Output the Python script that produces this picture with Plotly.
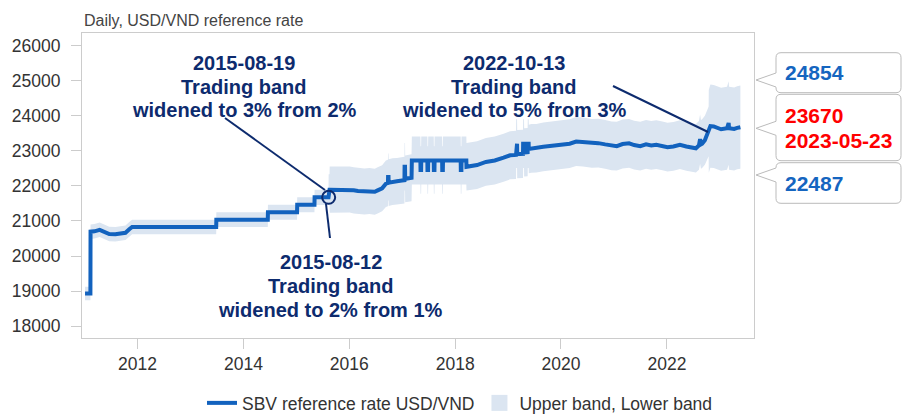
import plotly.graph_objects as go

# ---------------- data ----------------
dates = [
    "2011-01-04", "2011-02-10", "2011-02-11", "2011-03-10", "2011-04-15", "2011-05-15",
    "2011-06-20", "2011-08-01", "2011-09-15", "2011-10-10", "2011-11-05", "2011-11-25",
    "2013-06-27", "2013-06-28", "2014-06-18", "2014-06-19", "2015-01-06", "2015-01-07",
    "2015-05-06", "2015-05-07", "2015-08-11", "2015-08-12", "2015-08-18", "2015-08-19",
    "2015-12-31", "2016-01-04", "2016-02-01", "2016-03-01", "2016-04-15", "2016-05-20",
    "2016-06-25", "2016-07-15", "2016-08-15", "2016-09-10", "2016-09-24", "2016-09-25",
    "2016-09-28", "2016-09-29", "2016-10-25", "2016-11-25", "2016-12-30", "2017-01-16",
    "2017-01-17", "2017-01-20", "2017-01-21", "2017-02-20", "2017-03-06", "2017-03-08",
    "2017-05-06", "2017-05-07", "2017-05-11", "2017-05-12", "2017-06-23", "2017-06-24",
    "2017-06-28", "2017-06-29", "2017-08-06", "2017-08-07", "2017-08-11", "2017-08-12",
    "2017-10-03", "2017-10-04", "2017-10-08", "2017-10-09", "2018-02-08", "2018-02-09",
    "2018-02-13", "2018-02-14", "2018-03-19", "2018-03-20", "2018-04-15", "2018-06-01",
    "2018-08-01", "2018-10-01", "2018-12-01", "2019-01-15", "2019-02-25", "2019-02-26",
    "2019-03-04", "2019-03-05", "2019-04-14", "2019-04-15", "2019-04-21", "2019-04-22",
    "2019-05-16", "2019-05-17", "2019-05-23", "2019-05-24", "2019-06-10", "2019-07-15",
    "2019-09-01", "2019-11-01", "2020-01-01", "2020-03-01", "2020-04-15", "2020-06-01",
    "2020-08-01", "2020-09-15", "2020-11-01", "2020-12-15", "2021-01-20", "2021-03-01",
    "2021-04-15", "2021-05-20", "2021-07-01", "2021-08-10", "2021-09-15", "2021-10-20",
    "2021-12-01", "2022-01-05", "2022-02-15", "2022-04-01", "2022-05-15", "2022-06-20",
    "2022-07-20", "2022-08-10", "2022-08-18", "2022-08-24", "2022-09-01", "2022-09-20",
    "2022-10-10", "2022-10-16", "2022-10-17", "2022-10-28", "2022-11-20", "2022-12-15",
    "2023-01-10", "2023-02-20", "2023-02-27", "2023-03-03", "2023-03-06", "2023-04-10",
    "2023-05-01", "2023-05-23",
]
rates = [
    18932, 18932, 20693, 20703, 20745, 20700,
    20625, 20620, 20635, 20660, 20760, 20828,
    20828, 21036, 21036, 21246, 21246, 21458,
    21458, 21673, 21673, 21890, 21890, 21890,
    21890, 21896, 21870, 21850, 21840, 21850,
    21830, 21870, 21930, 22060, 22080, 22250,
    22250, 22090, 22120, 22130, 22150, 22160,
    22540, 22540, 22200, 22220, 22230, 22720,
    22720, 22450, 22450, 22720, 22720, 22450,
    22450, 22720, 22720, 22450, 22450, 22720,
    22720, 22450, 22450, 22720, 22720, 22450,
    22450, 22720, 22720, 22540, 22560, 22590,
    22680, 22720, 22800, 22870, 22880, 23200,
    23200, 22900, 22910, 23200, 23200, 22950,
    22960, 23200, 23200, 23050, 23065, 23070,
    23110, 23140, 23180, 23200, 23260, 23250,
    23210, 23215, 23180, 23140, 23130, 23190,
    23210, 23160, 23130, 23180, 23150, 23170,
    23140, 23100, 23120, 23170, 23120, 23080,
    23070, 23150, 23330, 23180, 23200, 23300,
    23490, 23550, 23550, 23700, 23690, 23650,
    23610, 23640, 23790, 23790, 23640, 23620,
    23650, 23670,
]

# trading band width (percent) in force from each date
band_start_dates = ["2011-01-01", "2015-08-12", "2015-08-19", "2022-10-17"]
band_percent = [1, 2, 3, 5]

marked_date = "2015-08-12"
last_date_label = dates[-1]

y_tick_values = [18000, 19000, 20000, 21000, 22000, 23000, 24000, 25000, 26000]

# ---------------- derived band ----------------
def pct_for(d):
    p = band_percent[0]
    for sd, bp in zip(band_start_dates, band_percent):
        if d >= sd:
            p = bp
    return p

upper = [(r * (100 + pct_for(d)) + 50) // 100 for d, r in zip(dates, rates)]
lower = [(r * (100 - pct_for(d)) + 50) // 100 for d, r in zip(dates, rates)]

# ---------------- style ----------------
FONT = "Liberation Sans, Arial, sans-serif"
LINE_C = "#1262be"
BAND_C = "#dbe5f1"
NAVY = "#0d2b6e"
BLUE_T = "#1565c0"
RED_T = "#ff0000"

W_FIG, H_FIG = 914, 414
ML, MR, MT, MB = 82, 160, 33, 76
PW = W_FIG - ML - MR
PH = H_FIG - MT - MB


def pxx(x):
    return (x - ML) / PW


def pxy(y):
    return (H_FIG - MB - y) / PH


fig = go.Figure()

fig.add_trace(go.Scatter(x=dates, y=lower, mode="lines", line=dict(width=0, color=BAND_C),
                         showlegend=False, hoverinfo="skip"))
fig.add_trace(go.Scatter(x=dates, y=upper, mode="lines", line=dict(width=0, color=BAND_C),
                         fill="tonexty", fillcolor=BAND_C, showlegend=False, hoverinfo="skip"))
fig.add_trace(go.Scatter(x=dates, y=rates, mode="lines", line=dict(width=4, color=LINE_C),
                         name="SBV reference rate USD/VND", legendrank=1))
# legend proxy for the band
fig.add_trace(go.Scatter(x=[None], y=[None], mode="markers",
                         marker=dict(symbol="square", size=16, color=BAND_C),
                         name="Upper band, Lower band", legendrank=2))
# circle marker
mi = dates.index(marked_date) - 1
fig.add_trace(go.Scatter(x=[marked_date], y=[rates[mi]], mode="markers",
                         marker=dict(symbol="circle-open", size=13, line=dict(width=2, color=NAVY), color=NAVY),
                         showlegend=False, hoverinfo="skip"))

annotations = []
shapes = []


def add_lines(xc, ys, lines, size, color, anchor="center"):
    for y, t in zip(ys, lines):
        annotations.append(dict(xref="paper", yref="paper", x=pxx(xc), y=pxy(y), text="<b>%s</b>" % t,
                                showarrow=False, xanchor=anchor, yanchor="middle",
                                font=dict(family=FONT, size=size, color=color)))


add_lines(244, [63, 86.5, 110], ["2015-08-19", "Trading band", "widened to 3% from 2%"], 20, NAVY)
add_lines(330.5, [262, 286, 310], ["2015-08-12", "Trading band", "widened to 2% from 1%"], 20, NAVY)
add_lines(514, [63, 86.5, 110], ["2022-10-13", "Trading band", "widened to 5% from 3%"], 20, NAVY)


def add_seg(x0, y0, x1, y1):
    shapes.append(dict(type="line", xref="paper", yref="paper", x0=pxx(x0), y0=pxy(y0),
                       x1=pxx(x1), y1=pxy(y1), line=dict(color=NAVY, width=2)))


add_seg(225, 118, 325, 190)
add_seg(326, 204, 330, 238)
add_seg(613, 86, 708, 132)


def callout(x0, y0, x1, y1, tx, ty, h=7, r=5):
    P = lambda x, y: "%.5f,%.5f" % (pxx(x), pxy(y))
    path = ("M" + P(x0 + r, y0) + " L" + P(x1 - r, y0) + " Q" + P(x1, y0) + " " + P(x1, y0 + r) +
            " L" + P(x1, y1 - r) + " Q" + P(x1, y1) + " " + P(x1 - r, y1) +
            " L" + P(x0 + r, y1) + " Q" + P(x0, y1) + " " + P(x0, y1 - r) +
            " L" + P(x0, ty + h) + " L" + P(tx, ty) + " L" + P(x0, ty - h) +
            " L" + P(x0, y0 + r) + " Q" + P(x0, y0) + " " + P(x0 + r, y0) + " Z")
    shapes.append(dict(type="path", xref="paper", yref="paper", path=path,
                       fillcolor="white", line=dict(color="#bbbbbb", width=1)))


callout(776, 52.7, 901, 92.7, 756, 80)
callout(776, 94.3, 901, 160.7, 756, 128.3)
callout(776, 162.7, 901, 203.3, 756, 175)

add_lines(783, [72.7], [str(upper[-1])], 21, BLUE_T, anchor="left")
add_lines(783, [115, 140.7], [str(rates[-1]), last_date_label], 21, RED_T, anchor="left")
add_lines(783, [183.3], [str(lower[-1])], 21, BLUE_T, anchor="left")

annotations.append(dict(xref="paper", yref="paper", x=0, y=pxy(20), text="Daily, USD/VND reference rate",
                        showarrow=False, xanchor="left", yanchor="middle",
                        font=dict(family=FONT, size=16, color="#444444")))

fig.update_layout(
    width=W_FIG, height=H_FIG,
    margin=dict(l=ML, r=MR, t=MT, b=MB, autoexpand=False),
    paper_bgcolor="white", plot_bgcolor="white",
    font=dict(family=FONT, color="#333333"),
    showlegend=True,
    legend=dict(orientation="h", traceorder="normal", x=pxx(460), xanchor="center",
                y=pxy(403), yanchor="middle", font=dict(size=17.5, color="#333333"),
                bgcolor="rgba(0,0,0,0)", itemwidth=30),
    annotations=annotations,
    shapes=shapes,
)
fig.update_xaxes(type="date", range=["2010-12-14", "2023-08-25"], tick0="2012-01-01", dtick="M24",
                 tickformat="%Y", showgrid=False, showline=True, mirror=True, linecolor="#cccccc",
                 ticks="outside", ticklen=10, tickcolor="#cccccc", zeroline=False, automargin=False,
                 tickfont=dict(size=17.5, color="#333333"))
fig.update_yaxes(range=[17664, 26353], tickvals=y_tick_values, tickformat="d", showgrid=False,
                 showline=True, mirror=True, automargin=False,
                 linecolor="#cccccc", ticks="outside", ticklen=10, tickcolor="#cccccc", zeroline=False,
                 ticklabelstandoff=7, tickfont=dict(size=17.5, color="#333333"))

fig.write_html("out.html", config={"displayModeBar": False},
               post_script="document.body.style.margin='0px';document.body.style.overflow='hidden';")
